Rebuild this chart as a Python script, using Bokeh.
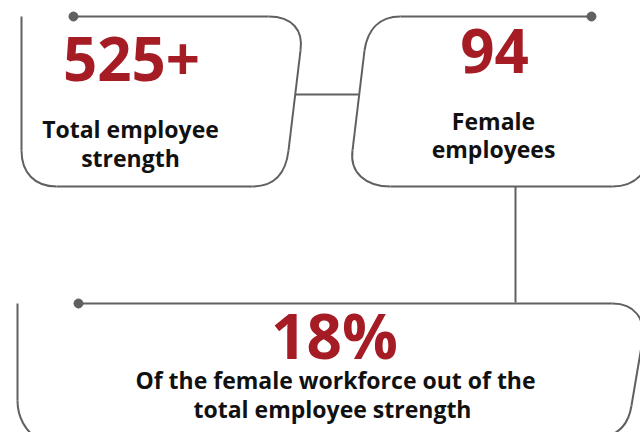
from bokeh.plotting import figure
from bokeh.models import Range1d
from bokeh.core.properties import value
from bokeh.embed import file_html
from bokeh.resources import INLINE

# ---- data ----
stat_values = ["525+", "94", "18%"]
stat_captions = [
    ["Total employee", "strength"],
    ["Female", "employees"],
    ["Of the female workforce out of the", "total employee strength"],
]

# ---- layout (picture pixel coordinates, y grows downward) ----
W, H = 640, 432
RED = "#a51c24"
LINE = "#606060"
FONT = "Open Sans"

# (x, baseline y, font px)
value_pos = [(131, 83, 60), (494, 75, 60), (334, 360, 62)]
caption_pos = [
    [(130, 138), (130, 167)],
    [(493, 130), (493, 158)],
    [(335, 389), (332, 418)],
]
CAP_PX = 23
BASE_SHIFT = 0.405  # renderer places the alphabetic baseline ~0.4em low

p = figure(width=W, height=H, output_backend="svg", toolbar_location=None,
           x_range=Range1d(0, W), y_range=Range1d(H, 0),
           min_border=0, outline_line_color=None)
p.axis.visible = False
p.grid.visible = False
p.background_fill_color = "white"
p.border_fill_color = "white"

# straight segments: (x0, y0, x1, y1)
segs = [
    # box 1
    (73, 16, 268, 16), (300, 50, 288, 150), (252, 186, 56, 186), (21, 150, 21, 16),
    # connector 1-2
    (295, 94, 358, 94),
    # box 2
    (591, 16, 400, 16), (364, 50, 352, 150), (390, 186, 612, 186),
    # connector 2-3
    (515, 186, 515, 302),
    # box 3
    (78, 303, 612, 303), (642, 340, 631, 405), (17, 303, 17, 400),
]
p.segment(x0=[s[0] for s in segs], y0=[s[1] for s in segs],
          x1=[s[2] for s in segs], y1=[s[3] for s in segs],
          line_color=LINE, line_width=2)

# rounded corners: (x0, y0, cx0, cy0, cx1, cy1, x1, y1)
curves = [
    (268, 16, 292, 16, 303, 30, 300, 50),
    (288, 150, 285, 175, 272, 186, 252, 186),
    (56, 186, 34, 186, 21, 172, 21, 150),
    (400, 16, 378, 16, 367, 30, 364, 50),
    (352, 150, 349, 172, 365, 186, 390, 186),
    (612, 186, 630, 186, 640, 178, 646, 166),
    (612, 303, 634, 303, 645, 318, 642, 340),
    (631, 405, 628, 425, 618, 432, 604, 438),
    (17, 400, 17, 418, 26, 430, 34, 436),
]
p.bezier(x0=[c[0] for c in curves], y0=[c[1] for c in curves],
         cx0=[c[2] for c in curves], cy0=[c[3] for c in curves],
         cx1=[c[4] for c in curves], cy1=[c[5] for c in curves],
         x1=[c[6] for c in curves], y1=[c[7] for c in curves],
         line_color=LINE, line_width=2)

# end dots
p.scatter(x=[73, 591, 78], y=[16, 16, 303], size=9, color=LINE)

# values
p.text(x=[v[0] for v in value_pos],
       y=[v[1] - BASE_SHIFT * v[2] for v in value_pos], text=stat_values,
       text_font=value(FONT), text_font_style="bold", text_color=RED,
       text_font_size=[f"{v[2]}px" for v in value_pos],
       text_align="center", text_baseline="alphabetic")

# captions
cx, cy, ct = [], [], []
for pos, lines in zip(caption_pos, stat_captions):
    for (x, y), t in zip(pos, lines):
        cx.append(x); cy.append(y - BASE_SHIFT * CAP_PX); ct.append(t)
p.text(x=cx, y=cy, text=ct, text_font=value(FONT), text_font_style="bold",
       text_color="#111111", text_font_size=f"{CAP_PX}px",
       text_align="center", text_baseline="alphabetic")

open("out.html", "w").write(file_html(p, INLINE))
